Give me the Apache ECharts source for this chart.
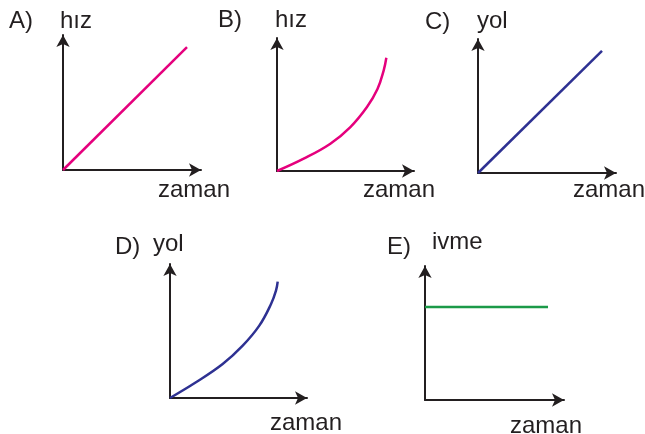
<!DOCTYPE html>
<html lang="tr">
<head>
    <meta charset="UTF-8">
    <title>Hareket grafikleri</title>
    <script src="https://cdn.jsdelivr.net/npm/echarts@6/dist/echarts.min.js"></script>
    <style>
        html, body { margin: 0; padding: 0; background: #fff; }
    </style>
</head>
<body>
    <div id="chart" style="width: 645px; height: 434px;"></div>
    <script>
        // values (arbitrary units)
        var timeA = [0, 10];
        var speedA = [0, 10];
        var timeB = [0, 2.44, 4.88, 6.71, 8.23, 9.19, 9.76, 10];
        var speedB = [0, 1.09, 2.41, 3.88, 5.65, 7.24, 8.89, 10];
        var timeC = [0, 10];
        var distC = [0, 10];
        var timeD = [0, 2.41, 4.89, 6.75, 8.29, 9.38, 9.84, 10];
        var distD = [0, 1.35, 2.92, 4.5, 6.22, 8.08, 9.23, 10];
        var timeE = [0, 10];
        var accelE = [5, 5];

        var ink = '#231f20';
        var font = '24px "Liberation Sans", Arial, sans-serif';

        function pairs(xs, ys) {
            return xs.map(function (x, i) { return [x, ys[i]]; });
        }

        // one small chart per panel
        var panels = [
            { grid: { left: 63, top: 35, width: 138, height: 135 }, xMax: 11.13, yMax: 10.98, data: pairs(timeA, speedA), color: '#e5007d', smooth: false },
            { grid: { left: 277, top: 38, width: 137, height: 133 }, xMax: 12.53, yMax: 11.74, data: pairs(timeB, speedB), color: '#e5007d', smooth: 0.4 },
            { grid: { left: 478, top: 39, width: 138, height: 134 }, xMax: 11.13, yMax: 10.98, data: pairs(timeC, distC), color: '#2e3192', smooth: false },
            { grid: { left: 170, top: 264, width: 137, height: 134 }, xMax: 12.72, yMax: 11.52, data: pairs(timeD, distD), color: '#2e3192', smooth: 0.4 },
            { grid: { left: 425, top: 266, width: 139, height: 134 }, xMax: 11.3, yMax: 7.2, data: pairs(timeE, accelE), color: '#1b9a48', smooth: false }
        ];

        // text: [label, x, baseline]
        var labels = [
            ['A)', 9, 28], ['hız', 60, 28], ['zaman', 158, 197],
            ['B)', 218, 27], ['hız', 275, 27], ['zaman', 363, 197],
            ['C)', 425, 29], ['yol', 477, 28], ['zaman', 573, 197],
            ['D)', 115, 254], ['yol', 153, 251], ['zaman', 270, 430],
            ['E)', 387, 254], ['ivme', 432, 249], ['zaman', 510, 433]
        ];

        var axisLine = {
            show: true,
            symbol: ['none', 'arrow'],
            symbolSize: [10, 12],
            lineStyle: { color: ink, width: 2 }
        };

        function axis(max) {
            return {
                type: 'value', min: 0, max: max,
                axisLine: axisLine,
                axisTick: { show: false },
                axisLabel: { show: false },
                splitLine: { show: false }
            };
        }

        var chart = echarts.init(document.getElementById('chart'));

        var option = {
            animation: false,
            backgroundColor: '#fff',
            grid: panels.map(function (p) { return p.grid; }),
            xAxis: panels.map(function (p, i) { var a = axis(p.xMax); a.gridIndex = i; return a; }),
            yAxis: panels.map(function (p, i) { var a = axis(p.yMax); a.gridIndex = i; return a; }),
            series: panels.map(function (p, i) {
                return {
                    type: 'line',
                    xAxisIndex: i,
                    yAxisIndex: i,
                    data: p.data,
                    smooth: p.smooth,
                    showSymbol: false,
                    lineStyle: { color: p.color, width: 2.5 }
                };
            }),
            graphic: labels.map(function (t) {
                return {
                    type: 'text',
                    x: t[1],
                    y: t[2] + 5,
                    style: { text: t[0], font: font, fill: ink, verticalAlign: 'bottom' }
                };
            })
        };

        chart.setOption(option);
    </script>
</body>
</html>
